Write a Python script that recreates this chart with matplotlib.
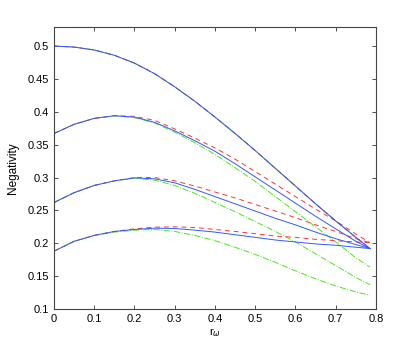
import matplotlib
matplotlib.use('Agg')
import matplotlib.pyplot as plt

plt.rcParams['font.family'] = ['Liberation Sans', 'DejaVu Sans']

# r_omega sample points
r = [0, 0.05, 0.1, 0.15, 0.2, 0.25, 0.3, 0.35, 0.4, 0.45, 0.5, 0.55, 0.6, 0.65, 0.7, 0.75, 0.785]

# top curve (all three coincide)
n1 = [0.500, 0.4985, 0.494, 0.486, 0.474, 0.458, 0.438, 0.416, 0.392, 0.367, 0.341, 0.314, 0.287, 0.260, 0.234, 0.209, 0.192]

# second curve
blue2 = [0.367, 0.381, 0.390, 0.394, 0.392, 0.384, 0.371, 0.356, 0.340, 0.321, 0.301, 0.281, 0.261, 0.241, 0.222, 0.203, 0.192]
red2 = [0.367, 0.381, 0.390, 0.394, 0.393, 0.387, 0.374, 0.360, 0.345, 0.328, 0.309, 0.290, 0.271, 0.252, 0.234, 0.214, 0.201]
green2 = [0.367, 0.381, 0.390, 0.394, 0.391, 0.383, 0.369, 0.353, 0.335, 0.315, 0.294, 0.271, 0.248, 0.225, 0.202, 0.178, 0.164]

# third curve
blue3 = [0.262, 0.277, 0.288, 0.295, 0.2995, 0.298, 0.292, 0.282, 0.271, 0.260, 0.249, 0.238, 0.228, 0.217, 0.207, 0.198, 0.192]
red3 = [0.262, 0.277, 0.288, 0.295, 0.300, 0.300, 0.295, 0.287, 0.278, 0.269, 0.259, 0.249, 0.239, 0.228, 0.218, 0.207, 0.201]
green3 = [0.262, 0.277, 0.288, 0.295, 0.299, 0.296, 0.288, 0.276, 0.262, 0.248, 0.233, 0.218, 0.202, 0.184, 0.166, 0.148, 0.137]

# fourth curve
blue4 = [0.188, 0.203, 0.212, 0.218, 0.221, 0.223, 0.2225, 0.220, 0.217, 0.213, 0.209, 0.205, 0.202, 0.199, 0.197, 0.194, 0.192]
red4 = [0.188, 0.203, 0.212, 0.218, 0.222, 0.2245, 0.225, 0.224, 0.221, 0.218, 0.2145, 0.211, 0.209, 0.206, 0.204, 0.202, 0.201]
green4 = [0.188, 0.203, 0.212, 0.217, 0.220, 0.221, 0.218, 0.212, 0.204, 0.194, 0.183, 0.171, 0.158, 0.146, 0.135, 0.126, 0.121]

fig = plt.figure(figsize=(4.16, 3.48), dpi=100)
ax = fig.add_axes([0.1298, 0.112, 0.774, 0.8104])

lw = 0.7
for g in [n1, green2, green3, green4]:
    ax.plot(r, g, color=(0.3, 0.9, 0.1), linestyle='-.', linewidth=lw)
for rr in [n1, red2, red3, red4]:
    ax.plot(r, rr, color=(1, 0.2, 0.2), linestyle=(0, (5, 4)), linewidth=lw)
for b in [n1, blue2, blue3, blue4]:
    ax.plot(r, b, color=(0.2, 0.35, 1), linestyle='-', linewidth=lw)

ax.set_xlim(0, 0.8)
ax.set_ylim(0.1, 0.529)
ax.set_xticks([0, 0.1, 0.2, 0.3, 0.4, 0.5, 0.6, 0.7, 0.8])
ax.set_xticklabels(['0', '0.1', '0.2', '0.3', '0.4', '0.5', '0.6', '0.7', '0.8'])
ax.set_yticks([0.1, 0.15, 0.2, 0.25, 0.3, 0.35, 0.4, 0.45, 0.5])
ax.set_yticklabels(['0.1', '0.15', '0.2', '0.25', '0.3', '0.35', '0.4', '0.45', '0.5'])
ax.tick_params(direction='in', top=True, right=True, labelsize=8, length=3, width=0.6, colors='#333333', labelcolor='black')
for s in ax.spines.values():
    s.set_linewidth(0.8)
    s.set_color('#444444')

ax.set_xlabel(r'r$_\omega$', fontsize=8, labelpad=2)
ax.set_ylabel('Negativity', fontsize=8.5, labelpad=6)

fig.savefig('out.png', dpi=100)
